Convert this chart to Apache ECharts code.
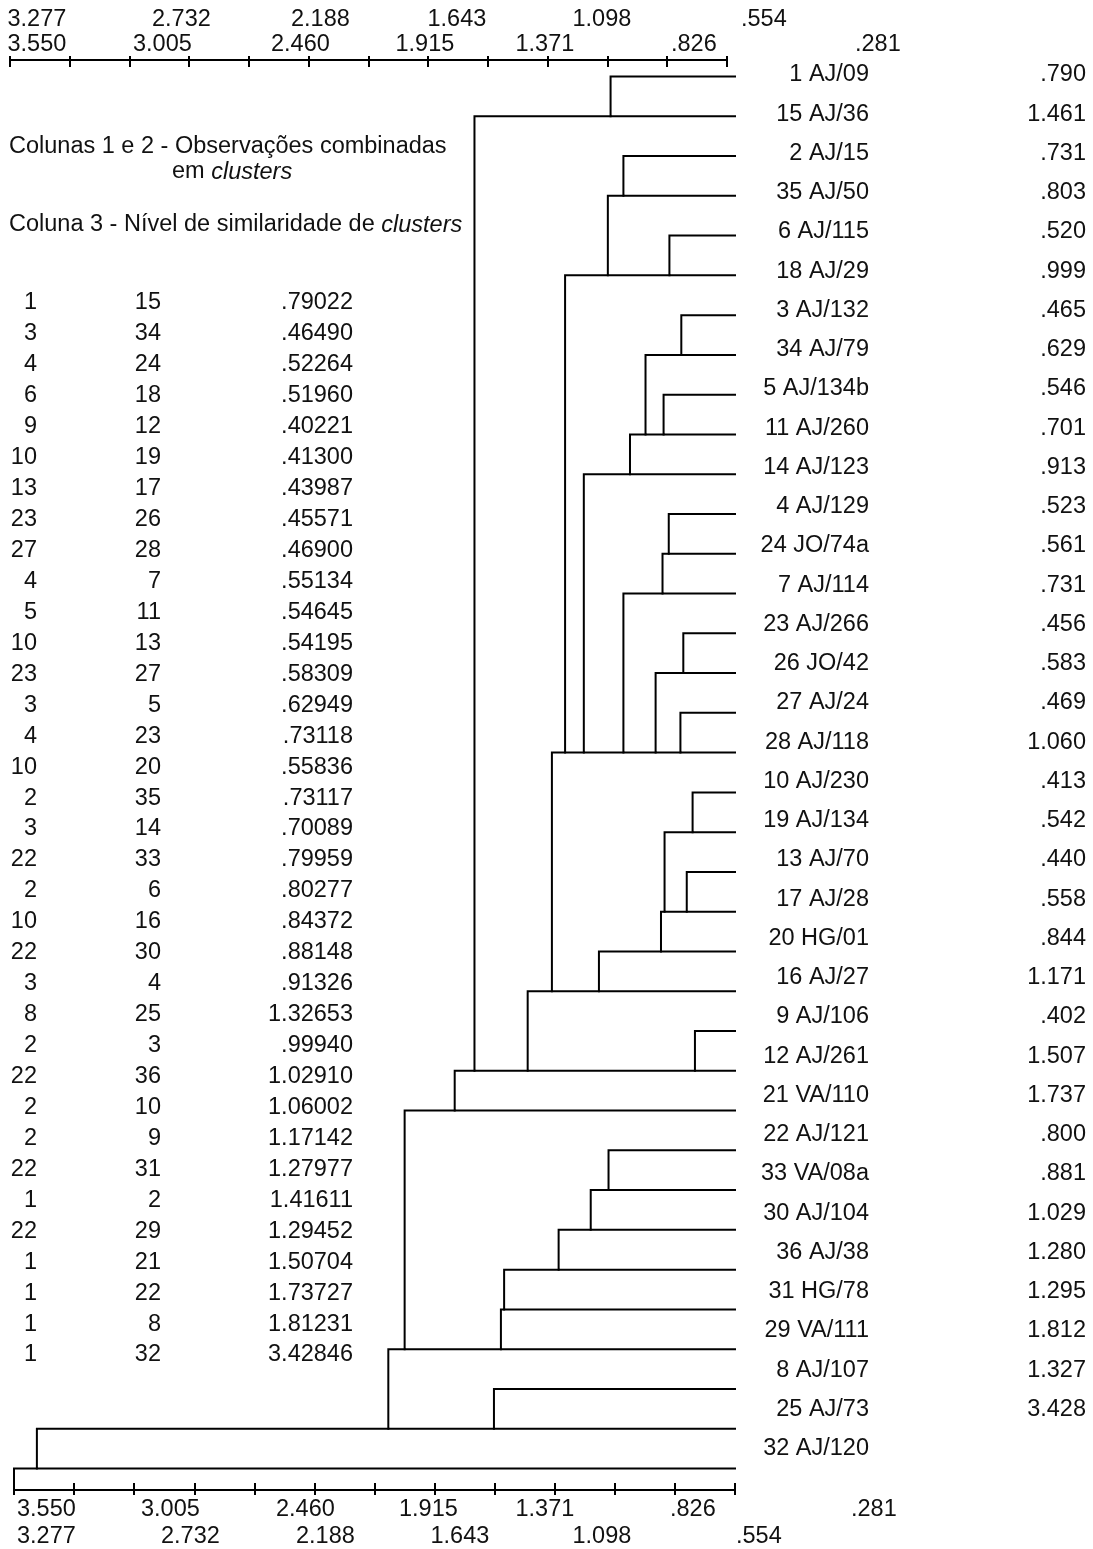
<!DOCTYPE html>
<html>
<head>
<meta charset="utf-8">
<script src="https://cdn.jsdelivr.net/npm/echarts@6/dist/echarts.min.js"></script>
<style>
  html, body { margin: 0; padding: 0; background: #fff; }
  #chart { width: 1093px; height: 1549px; }
</style>
</head>
<body>
<div id="chart"></div>
<script>
// Observations in dendrogram order (top to bottom)
const leafIds = [1, 15, 2, 35, 6, 18, 3, 34, 5, 11, 14, 4, 24, 7, 23, 26, 27, 28,
                 10, 19, 13, 17, 20, 16, 9, 12, 21, 22, 33, 30, 36, 31, 29, 8, 25, 32];
const leafCodes = ['AJ/09', 'AJ/36', 'AJ/15', 'AJ/50', 'AJ/115', 'AJ/29', 'AJ/132', 'AJ/79',
                   'AJ/134b', 'AJ/260', 'AJ/123', 'AJ/129', 'JO/74a', 'AJ/114', 'AJ/266', 'JO/42',
                   'AJ/24', 'AJ/118', 'AJ/230', 'AJ/134', 'AJ/70', 'AJ/28', 'HG/01', 'AJ/27',
                   'AJ/106', 'AJ/261', 'VA/110', 'AJ/121', 'VA/08a', 'AJ/104', 'AJ/38', 'HG/78',
                   'VA/111', 'AJ/107', 'AJ/73', 'AJ/120'];
// Level printed beside each observation
const leafLevels = [0.790, 1.461, 0.731, 0.803, 0.520, 0.999, 0.465, 0.629, 0.546, 0.701,
                    0.913, 0.523, 0.561, 0.731, 0.456, 0.583, 0.469, 1.060, 0.413, 0.542,
                    0.440, 0.558, 0.844, 1.171, 0.402, 1.507, 1.737, 0.800, 0.881, 1.029,
                    1.280, 1.295, 1.812, 1.327, 3.428, null];

// Agglomeration schedule: clusters joined (columns 1 and 2) and level (column 3)
const mergeFirst  = [1, 3, 4, 6, 9, 10, 13, 23, 27, 4, 5, 10, 23, 3, 4, 10, 2, 3,
                     22, 2, 10, 22, 3, 8, 2, 22, 2, 2, 22, 1, 22, 1, 1, 1, 1];
const mergeSecond = [15, 34, 24, 18, 12, 19, 17, 26, 28, 7, 11, 13, 27, 5, 23, 20, 35, 14,
                     33, 6, 16, 30, 4, 25, 3, 36, 10, 9, 31, 2, 29, 21, 22, 8, 32];
const mergeLevel  = [0.79022, 0.46490, 0.52264, 0.51960, 0.40221, 0.41300, 0.43987, 0.45571,
                     0.46900, 0.55134, 0.54645, 0.54195, 0.58309, 0.62949, 0.73118, 0.55836,
                     0.73117, 0.70089, 0.79959, 0.80277, 0.84372, 0.88148, 0.91326, 1.32653,
                     0.99940, 1.02910, 1.06002, 1.17142, 1.27977, 1.41611, 1.29452, 1.50704,
                     1.73727, 1.81231, 3.42846];

// Scale labels, printed in two staggered rows
const scaleRowOdd  = ['3.277', '2.732', '2.188', '1.643', '1.098', '.554'];
const scaleRowEven = ['3.550', '3.005', '2.460', '1.915', '1.371', '.826', '.281'];

const headingLines = [
  'Colunas 1 e 2 - Observações combinadas',
  'em {i|clusters}',
  'Coluna 3 - Nível de similaridade de {i|clusters}'
];

// ---- styling / layout ----
const FONT = '"Liberation Sans", Arial, Helvetica, sans-serif';
const FS = 23.5;
const INK = '#111';
const LEVEL_MIN = 0.218;   // leaf end of the level axis
const LEVEL_MAX = 3.5337;  // root end of the level axis
const ROW_MIN = 0.585;
const ROW_MAX = 36.541;

const topScaleX = { odd: [7.5, 152, 291, 427.5, 572.5, 741], even: [7.5, 133, 271, 395.5, 515.5, 671, 855] };
const botScaleX = { odd: [17, 161, 296, 430.5, 572.5, 736], even: [17, 141, 276, 399, 515.5, 670, 851] };

const fmt = (v, d) => v.toFixed(d).replace(/^0\./, '.');

// ---- build the tree paths ----
const rowOf = {};
leafIds.forEach((id, i) => { rowOf[id] = i + 1; });
const levelNow = {}, rowNow = {};
leafIds.forEach(id => { levelNow[id] = LEVEL_MIN; rowNow[id] = rowOf[id]; });
const paths = [];
mergeFirst.forEach((a, k) => {
  const b = mergeSecond[k], h = mergeLevel[k];
  paths.push([[levelNow[a], rowNow[a]], [h, rowNow[a]], [h, rowNow[b]], [levelNow[b], rowNow[b]]]);
  levelNow[a] = h;
  rowNow[a] = Math.max(rowNow[a], rowNow[b]);
});
const root = mergeFirst[mergeFirst.length - 1];
paths.push([[levelNow[root], rowNow[root]], [LEVEL_MAX, rowNow[root]], [LEVEL_MAX, ROW_MAX]]);

// ---- text blocks ----
const graphics = [];
function addText(x, y, text, align) {
  graphics.push({
    type: 'text', x: x, y: y, silent: true,
    style: {
      text: text, fontSize: FS, fontFamily: FONT, fill: INK,
      align: align || 'left', verticalAlign: 'middle',
      rich: { i: { fontStyle: 'italic', fontSize: FS, fontFamily: FONT, fill: INK } }
    }
  });
}
addText(9, 146.7, headingLines[0]);
addText(172, 172, headingLines[1]);
addText(9, 225, headingLines[2]);

const tableRight = [37, 161, 353];
mergeFirst.forEach((a, k) => {
  const y = 303 + k * 30.94;
  addText(tableRight[0], y, String(a), 'right');
  addText(tableRight[1], y, String(mergeSecond[k]), 'right');
  addText(tableRight[2], y, fmt(mergeLevel[k], 5), 'right');
});

scaleRowOdd.forEach((t, i) => { addText(topScaleX.odd[i], 19.5, t); addText(botScaleX.odd[i], 1537, t); });
scaleRowEven.forEach((t, i) => { addText(topScaleX.even[i], 45, t); addText(botScaleX.even[i], 1510, t); });

// ---- tick-only scale axes ----
function tickAxis(gridIndex, showLine, inside, len) {
  return {
    gridIndex: gridIndex, type: 'value', position: 'bottom', min: 0, max: 12, interval: 1,
    axisLine: { show: showLine, lineStyle: { color: '#000', width: 2 } },
    axisTick: { show: true, inside: inside, length: len, lineStyle: { color: '#000', width: 2 } },
    axisLabel: { show: false }, splitLine: { show: false }
  };
}
const hiddenY = g => ({ gridIndex: g, type: 'value', show: false, min: 0, max: 1 });

const leafNames = leafIds.map((id, i) => id + ' ' + leafCodes[i]);
const leafLevelText = leafLevels.map(v => v == null ? '' : fmt(v, 3));

const option = {
  backgroundColor: '#fff',
  animation: false,
  grid: [
    { left: 14, width: 721, top: 60, height: 1430 },          // 0: tree + lower scale
    { left: 14, width: 721, top: 60, height: 1430 },          // 1: lower scale, outer ticks
    { left: 10, width: 716.7, top: 40, height: 20 },          // 2: upper scale
    { left: 10, width: 716.7, top: 40, height: 20 },          // 3: upper scale, outer ticks
    { left: 879, width: 207, top: 55.375, height: 1413 }      // 4: observation labels
  ],
  xAxis: [
    { gridIndex: 0, type: 'value', position: 'top', show: false, inverse: true, min: LEVEL_MIN, max: LEVEL_MAX },
    tickAxis(0, true, true, 7),
    tickAxis(1, false, false, 5),
    tickAxis(2, true, true, 4),
    tickAxis(3, false, false, 7),
    { gridIndex: 4, type: 'value', show: false }
  ],
  yAxis: [
    { gridIndex: 0, type: 'value', show: false, inverse: true, min: ROW_MIN, max: ROW_MAX },
    hiddenY(1), hiddenY(2), hiddenY(3),
    {
      gridIndex: 4, type: 'category', inverse: true, position: 'left', data: leafNames,
      axisLine: { show: false }, axisTick: { show: false }, splitLine: { show: false },
      axisLabel: { interval: 0, margin: 10, fontSize: FS, fontFamily: FONT, color: INK }
    },
    {
      gridIndex: 4, type: 'category', inverse: true, position: 'right', data: leafLevelText,
      axisLine: { show: false }, axisTick: { show: false }, splitLine: { show: false },
      axisLabel: { interval: 0, margin: 0, align: 'right', fontSize: FS, fontFamily: FONT, color: INK }
    }
  ],
  series: [{
    type: 'custom',
    coordinateSystem: 'cartesian2d',
    xAxisIndex: 0, yAxisIndex: 0,
    clip: false, silent: true,
    data: paths.map(p => p[0]),
    renderItem: function (params, api) {
      const pts = paths[params.dataIndex].map(p => api.coord(p));
      return {
        type: 'polyline',
        shape: { points: pts },
        style: { stroke: '#000', lineWidth: 2, fill: null, lineJoin: 'miter', lineCap: 'square' }
      };
    }
  }],
  graphic: graphics
};

const chart = echarts.init(document.getElementById('chart'), null, { renderer: 'canvas' });
chart.setOption(option);
</script>
</body>
</html>
